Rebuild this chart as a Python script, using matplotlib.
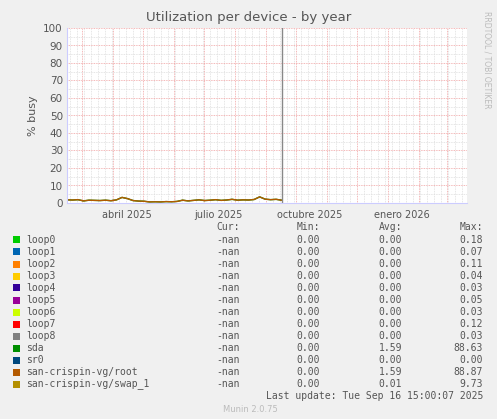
import matplotlib
matplotlib.use("Agg")
import matplotlib.pyplot as plt
import matplotlib.dates as mdates
import numpy as np
import datetime as dt

names = ["loop0","loop1","loop2","loop3","loop4","loop5","loop6","loop7","loop8","sda","sr0",
         "san-crispin-vg/root","san-crispin-vg/swap_1"]
colors = ["#00CC00","#0066B3","#FF8000","#FFCC00","#330099","#990099","#CCFF00","#FF0000",
          "#808080","#008F00","#00487D","#B35A00","#B38F00"]
cur = ["-nan"]*13
mins = ["0.00"]*13
avgs = ["0.00"]*9 + ["1.59","0.00","1.59","0.01"]
maxs = ["0.18","0.07","0.11","0.04","0.03","0.05","0.03","0.12","0.03","88.63","0.00","88.87","9.73"]

# weekly samples of the root/sda busy %, Feb 14 - Sep 16 2025
root_vals = [1.8,1.7,1.9,1.2,1.6,1.5,1.4,1.6,1.3,1.8,3.2,2.5,1.4,1.1,1.0,0.6,0.7,0.6,0.8,0.7,
             0.9,1.6,1.2,1.5,1.8,1.4,1.6,1.9,1.5,1.7,2.1,1.6,1.8,1.7,2.0,3.5,2.2,1.9,2.1,1.6]
start = dt.datetime(2025,2,14)
now = dt.datetime(2025,9,16,15)
dates = [start + (now-start)*i/(len(root_vals)-1) for i in range(len(root_vals))]

fig = plt.figure(figsize=(4.97,4.19), dpi=100, facecolor="#F0F0F0")
ax = fig.add_axes([67/497, 1-203/419, 400/497, 175/419])
ax.set_facecolor("white")
ax.plot(dates, root_vals, color=colors[9], lw=1)
ax.plot(dates, root_vals, color=colors[11], lw=1)
ax.axvline(now, color="#888888", lw=1)
ax.set_xlim(dt.datetime(2025,2,14), dt.datetime(2026,3,21))
ax.set_ylim(0,100)
ax.set_yticks(range(0,101,10))
ax.set_yticks(range(0,101,5), minor=True)
ax.xaxis.set_major_locator(mdates.MonthLocator())
ax.xaxis.set_minor_locator(mdates.WeekdayLocator(byweekday=0))
ax.xaxis.set_major_formatter(plt.NullFormatter())
ax.grid(which="minor", color="#DDDDDD", ls=(0,(1,1)), lw=0.6)
ax.grid(which="major", color="#F0A0A0", ls=(0,(1,1)), lw=0.6)
ax.set_axisbelow(True)
for lbl, d in [("abril 2025",dt.datetime(2025,4,15)),("julio 2025",dt.datetime(2025,7,15)),
               ("octubre 2025",dt.datetime(2025,10,15)),("enero 2026",dt.datetime(2026,1,15))]:
    ax.text(d, -7, lbl, ha="center", va="center", fontsize=7, color="#555555", clip_on=False)
ax.tick_params(axis="y", labelsize=7.5, colors="#555555", length=0, pad=3)
ax.tick_params(axis="x", length=0)
ax.tick_params(which="minor", length=0)
for s in ["top","right"]:
    ax.spines[s].set_visible(False)
ax.spines["left"].set_color("#CCCCFF")
ax.spines["bottom"].set_color("#CCCCFF")
ax.set_ylabel("% busy", fontsize=8, color="#555555")
fig.text(0.5, 1-18/419, "Utilization per device - by year", ha="center", va="center", fontsize=9.5, color="#555555")
fig.text(487/497, 1-60/419, "RRDTOOL / TOBI OETIKER", rotation=270, ha="center", va="center", fontsize=5.5, color="#BBBBBB")

fs = 7
fam = "DejaVu Sans Mono"
def row(y, txt, x, ha="right"):
    fig.text(x/497, 1-y/419, txt, ha=ha, va="center", fontsize=fs, family=fam, color="#555555")
row(227, "Cur:", 240); row(227, "Min:", 320); row(227, "Avg:", 402); row(227, "Max:", 483)
for i, n in enumerate(names):
    y = 240 + i*12.0
    fig.patches.append(plt.Rectangle((13/497, 1-(y+3.5)/419), 7/497, 7/419, transform=fig.transFigure,
                                     facecolor=colors[i], edgecolor="none"))
    row(y, n, 26, ha="left")
    row(y, cur[i], 240); row(y, mins[i], 320); row(y, avgs[i], 402); row(y, maxs[i], 483)
row(396, "Last update: Tue Sep 16 15:00:07 2025", 483)
fig.text(250/497, 1-409/419, "Munin 2.0.75", ha="center", va="center", fontsize=6, color="#BBBBBB")
fig.savefig("out.png", dpi=100, facecolor=fig.get_facecolor())
